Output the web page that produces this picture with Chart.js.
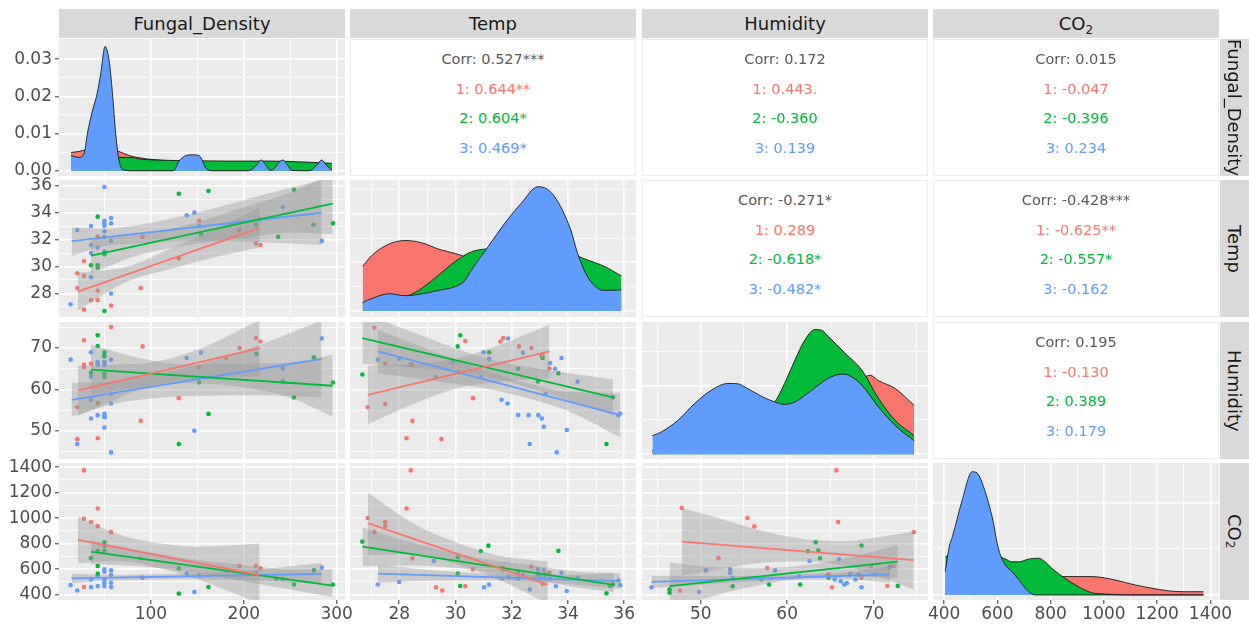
<!DOCTYPE html>
<html>
<head>
<meta charset="utf-8">
<script src="https://cdn.jsdelivr.net/npm/chart.js@4.4.1/dist/chart.umd.min.js"></script>
<style>
    body { margin: 0; background: #fff; width: 1249px; height: 624px; overflow: hidden; position: relative;
           font-family: "DejaVu Sans", "Liberation Sans", Arial, sans-serif; }
    canvas { position: absolute; }
    .strip { position: absolute; background: #d9d9d9; color: #1a1a1a; font-size: 18px;
             display: flex; align-items: center; justify-content: center; }
    .strip.side { writing-mode: vertical-rl; }
    .strip sub { font-size: 12px; vertical-align: -4px; line-height: 0; }
    .upper { position: absolute; background: #fff; border: 1px solid #ececec; box-sizing: border-box; }
    .upper div { position: absolute; left: 0; right: 0; text-align: center; font-size: 14.5px; line-height: 20px; }
</style>
</head>
<body>
<script>
// groups and variables
const groupNames = ['1', '2', '3'];
const groupColors = ['#F8766D', '#00BA38', '#619CFF'];
const varLabels = ['Fungal_Density', 'Temp', 'Humidity', 'CO<sub>2</sub>'];

// axis breaks
const fungalRange = [1, 309], fungalBreaks = [100, 200, 300], fungalMinor = [50, 150, 250];
const tempRange = [26.25, 36.42], tempBreaks = [28, 30, 32, 34, 36], tempMinor = [27, 29, 31, 33, 35];
const humRange = [43.2, 76.3], humBreaks = [50, 60, 70], humMinor = [45, 55, 65, 75];
const co2Range = [358, 1432], co2Breaks = [400, 600, 800, 1000, 1200, 1400], co2Minor = [500, 700, 900, 1100, 1300];
const fdDensRange = [-0.0014, 0.0354], fdDensBreaks = [0, 0.01, 0.02, 0.03], fdDensMinor = [0.005, 0.015, 0.025];
const fdDensLabels = ['0.00', '0.01', '0.02', '0.03'];
const tDensRange = [-0.013, 0.27], tDensBreaks = [0, 0.1, 0.2], tDensMinor = [0.05, 0.15, 0.25];
const hDensRange = [-0.0014, 0.0385], hDensBreaks = [0, 0.02], hDensMinor = [0.01, 0.03];
const cDensRange = [-0.00011, 0.00287], cDensBreaks = [0, 0.002], cDensMinor = [0.001];

// densities (diagonal) : [red, green, blue]
const densFungal = [
    [[14,0.0049],[22.5,0.0052],[28,0.0055],[40,0.006],[50,0.0062],[58,0.0058],[65.7,0.0052],[76.5,0.0041],[90,0.0034],[103,0.003],[120,0.0027],[150,0.0025],[200,0.0022],[250,0.0018],[295,0.0015]],
    [[14,0.001],[30,0.0018],[50,0.0028],[65.7,0.0036],[76.5,0.0036],[90,0.0031],[103,0.0029],[120,0.0028],[150,0.0027],[180,0.0026],[200,0.0026],[230,0.0026],[260,0.0024],[280,0.0022],[295,0.002]],
    [[14,0.0041],[22.5,0.0036],[28,0.0045],[31.5,0.0099],[36.9,0.016],[42.3,0.021],[45.9,0.026],[50.6,0.0334],[54.9,0.0297],[58.5,0.021],[62.1,0.0099],[65.7,0.0027],[71,0.0002],[80,0],[124,0],[130.6,0.0027],[137.8,0.0041],[145,0.0043],[152.2,0.004],[159.5,0.0006],[166,0],[205,0],[214,0.0016],[218.9,0.0029],[223.5,0.0016],[229,0.0001],[233,0.0006],[237,0.002],[242.3,0.0029],[247,0.0016],[252,0.0001],[270,0],[279,0.0016],[283.8,0.0029],[289,0.0015],[295,0.0002]]
];
const densTemp = [
    [[26.7,0.092],[27.06,0.116],[27.65,0.138],[28.23,0.145],[28.82,0.14],[29.41,0.127],[30.0,0.118],[30.3,0.112],[30.58,0.1],[31.17,0.08],[31.76,0.065],[32.34,0.055],[32.93,0.045],[33.52,0.035],[34.1,0.025],[34.69,0.018],[35.28,0.012],[35.9,0.01]],
    [[26.7,0.015],[27.06,0.02],[27.65,0.025],[28.23,0.03],[28.4,0.033],[28.82,0.047],[29.41,0.074],[30.0,0.102],[30.58,0.122],[31.17,0.128],[31.76,0.13],[32.34,0.13],[32.93,0.128],[33.52,0.124],[34.1,0.118],[34.28,0.114],[34.69,0.105],[35.28,0.092],[35.9,0.072]],
    [[26.7,0.017],[27.06,0.026],[27.65,0.035],[28.23,0.031],[28.82,0.035],[29.41,0.042],[30.0,0.05],[30.3,0.06],[30.58,0.085],[31.17,0.133],[31.76,0.181],[32.34,0.222],[32.93,0.256],[33.11,0.255],[33.52,0.236],[34.1,0.167],[34.34,0.119],[34.69,0.071],[35.04,0.047],[35.28,0.042],[35.9,0.043]]
];
const densHum = [
    [[44.4,0.001],[47.33,0.004],[51.2,0.008],[55.08,0.011],[58.57,0.013],[62.83,0.016],[66.71,0.02],[68.64,0.022],[69.6,0.023],[70.58,0.0214],[72.52,0.0191],[74.7,0.0142]],
    [[44.4,0.001],[46,0.002],[49.27,0.005],[53.14,0.008],[57.01,0.012],[58.57,0.0152],[59.7,0.0206],[60.9,0.0274],[62.06,0.0333],[63.22,0.0363],[63.99,0.0361],[64.77,0.0343],[66.71,0.0294],[68.64,0.0245],[70.58,0.0162],[72.52,0.0098],[74.7,0.0054]],
    [[44.4,0.0054],[45.38,0.0064],[47.33,0.0098],[49.27,0.0147],[51.2,0.0186],[53.14,0.0206],[54.3,0.0205],[55.08,0.0196],[57.01,0.0169],[58.57,0.0152],[59.7,0.0145],[60.9,0.0152],[62.83,0.0186],[64.77,0.0221],[66.3,0.0233],[67.1,0.023],[68.64,0.0201],[70.58,0.0137],[72.52,0.0083],[74.7,0.0039]]
];
const densCO2 = [
    [[404,0.0001],[500,0.0002],[600,0.0003],[700,0.00034],[760,0.00036],[829,0.0004],[904,0.0004],[953,0.0004],[1003,0.00037],[1053,0.00031],[1115,0.00022],[1177,0.00015],[1240,0.00009],[1302,0.00007],[1374,0.00007]],
    [[404,0.00083],[431,0.0009],[468,0.001],[505,0.0011],[543,0.0011],[580,0.00098],[605,0.00085],[630,0.00078],[655,0.00072],[680,0.00072],[717,0.00078],[754,0.0008],[779,0.00072],[804,0.00058],[854,0.00036],[904,0.00018],[953,0.00005],[1003,0.00002],[1100,0],[1374,0]],
    [[404,0.00051],[419,0.00105],[431,0.00127],[468,0.00207],[505,0.00268],[524,0.00265],[543,0.00243],[580,0.0017],[605,0.00098],[630,0.00065],[655,0.00051],[680,0.00033],[717,0.00007],[742,0],[1374,0]]
];

// scatter points (lower panels) : [red, green, blue]
const ptsFungalTemp = [
    [[20.7,29.5],[20.7,28.4],[27.9,30.4],[27.9,29.3],[27.9,26.8],[35.5,27.5],[42.7,27.5],[42.7,28.2],[42.7,32.2],[57.1,27.1],[89,28.4],[91,32.2],[130,30.6],[152,33.4],[195,32.7],[213,31.7],[218,31.6]],
    [[35.5,30.1],[42.7,33.7],[42.7,30.1],[42.7,29.9],[49.9,31.0],[49.9,30.9],[49.9,26.7],[130,35.4],[154,32.4],[162,35.6],[195,32.7],[213,33.1],[237,32.2],[254,35.7],[275,33.1],[296,33.2]],
    [[13.5,27.2],[20.7,32.7],[35.5,33.0],[35.5,31.6],[35.5,31.0],[35.5,29.2],[42.7,32.2],[42.7,31.4],[49.9,35.9],[49.9,33.4],[49.9,33.2],[49.9,33.0],[49.9,32.6],[49.9,32.2],[49.9,31.1],[57.1,33.6],[57.1,33.2],[57.1,31.9],[57.1,28.0],[138.6,33.8],[146.8,34.0],[152,33.0],[217,33.5],[242,34.4],[284,31.9]]
];
const ptsFungalHum = [
    [[20.7,48.0],[20.7,55.7],[27.9,71.9],[27.9,66.0],[27.9,65.4],[35.5,66.2],[42.7,48.2],[42.7,56.7],[57.1,75.1],[89,52.4],[91,70.4],[130,57.9],[152,65.4],[181,67.6],[195.5,70.0],[213,72.4],[218,71.6]],
    [[42.7,73.1],[42.7,70.5],[49.9,69.0],[49.9,68.0],[49.9,63.8],[49.9,63.0],[35.5,64.0],[130,46.8],[152,61.7],[162,54.1],[213.5,68.6],[242,61.9],[254,58.1],[275.5,67.8],[296,61.7]],
    [[13.5,67.2],[20.7,46.8],[35.5,69.0],[35.5,63.0],[35.5,57.5],[35.5,53.0],[42.7,66.6],[42.7,66.0],[42.7,53.8],[49.9,68.2],[49.9,66.6],[49.9,66.0],[49.9,54.1],[49.9,53.6],[49.9,53.3],[49.9,50.8],[57.1,67.2],[57.1,58.9],[57.1,56.6],[57.1,44.8],[138.6,67.6],[146.8,50.0],[154,68.9],[242,65.1],[284,72.3]]
];
const ptsFungalCO2 = [
    [[27.9,1374],[27.9,995],[35.5,969],[42.7,1075],[42.7,937],[57.1,890],[27.9,459],[89,683],[181,585],[195.5,625],[212.8,625],[218,606]],
    [[35.5,686],[42.7,744],[49.9,810],[49.9,784],[49.9,744],[42.7,564],[42.7,625],[130,408],[130,606],[162,459],[235,527],[254,479],[275.5,590],[296,479]],
    [[13.5,475],[20.7,432],[35.5,459],[35.5,519],[42.7,467],[42.7,546],[49.9,598],[49.9,580],[49.9,519],[49.9,493],[49.9,467],[57.1,590],[57.1,554],[57.1,493],[57.1,459],[91,532],[138.6,564],[146.8,421],[152,551],[213.5,572],[242,525],[284,612]]
];
const ptsTempHum = [
    [[27.12,74.9],[26.88,55.7],[27.5,56.5],[27.5,66.2],[28.47,52.4],[28.26,48.2],[29.5,48.0],[28.45,66.0],[30.35,71.7],[30.62,57.9],[31.6,71.6],[31.7,72.4],[32.26,70.4],[32.7,70.0],[33.34,65.1],[33.1,68.2]],
    [[26.69,63.6],[30.17,73.1],[30.08,70.4],[32.23,65.0],[33.07,68.0],[33.66,63.9],[32.93,61.9],[35.6,58.1],[35.37,46.8],[31.2,69.0],[33.1,67.6]],
    [[27.24,67.2],[28,67.4],[28.41,66.0],[29.3,63.0],[29.9,66.6],[30.1,64.2],[30.9,63.0],[31.0,69.0],[31.2,67.4],[31.87,72.3],[32.4,68.9],[31.64,57.5],[31.85,56.6],[32.23,53.8],[32.6,53.8],[32.95,53.8],[33.07,53.0],[33.14,51.0],[32.64,46.8],[33.36,66.4],[33.54,65.0],[33.77,67.6],[33.96,50.2],[34.34,61.9],[33.6,44.8],[35.8,53.8],[35.86,54.2],[33.2,58.9]]
];
const ptsTempCO2 = [
    [[28.41,1374],[26.88,1001],[27.5,969],[27.5,935],[27.12,890],[28.26,1075],[28.47,684],[29.31,458],[29.53,432],[30.35,466],[30.62,598],[31.64,611],[32.7,619],[33.1,484],[33.34,571]],
    [[26.69,816],[30.08,693],[30.08,566],[30.17,468],[30.9,740],[31.17,784],[32.23,582],[32.93,561],[33.66,743],[35.37,410],[35.5,468],[35.6,481],[31.7,600],[33.2,555]],
    [[27.24,479],[28,500],[29.23,664],[31.02,458],[31.19,479],[31.64,527],[32.23,527],[32.64,440],[32.93,598],[33.14,590],[33.36,527],[33.57,466],[33.77,571],[33.96,429],[34.34,532],[35.8,511],[35.86,474],[32.4,555],[33.0,545],[31.9,540]]
];
const ptsHumCO2 = [
    [[47.8,1080],[47.6,432],[52.05,686],[55.4,1001],[56.2,935],[57.7,608],[64.8,560],[65.2,458],[65.7,1374],[65.9,969],[68.6,532],[69.7,624],[71.6,468],[72.3,624],[74.65,890]],
    [[46.4,415],[46.4,440],[53.7,466],[57.9,479],[61.5,479],[62.4,740],[63.3,811],[63.6,745],[63.8,685],[64.8,532],[68.6,785],[72.8,468]],
    [[44.3,458],[46.4,440],[49.8,421],[50.6,590],[53.4,598],[53.4,571],[53.7,532],[57.0,519],[58.6,590],[61.4,545],[62.6,664],[64.7,553],[65.5,519],[66.0,677],[66.2,505],[66.6,479],[66.9,490],[67.3,563],[67.9,519],[68.3,558],[68.6,458],[70.2,558],[71.8,611],[71.9,620]]
];

// fitted lines (ends) and confidence bands [x, low, high]
const fitFungalTemp = [[[21.4,28.14],[217,32.87]], [[35.5,30.81],[295.7,34.66]], [[14.6,31.88],[283.8,33.99]]];
const bandFungalTemp = [
    [[21.4,26.74,29.54],[75,28.9,30.0],[120,29.8,31.3],[170,30.7,32.8],[217,31.4,34.4]],
    [[35.5,29.5,32.1],[90,30.9,32.4],[140,31.6,33.1],[200,32.1,34.4],[250,32.5,35.5],[295.7,32.4,36.9]],
    [[14.6,30.8,32.9],[50,31.5,32.8],[80,31.7,33.0],[150,31.9,34.0],[220,31.8,35.3],[283.8,31.6,36.4]]
];
const fitFungalHum = [[[21.4,59.7],[217,70.0]], [[35.5,64.8],[295.7,60.9]], [[14.6,57.5],[283.8,67.4]]];
const bandFungalHum = [
    [[21.4,53.6,65.8],[60,57.4,66.0],[100,60.9,66.5],[150,62.6,69.6],[217,63.2,76.8]],
    [[35.5,58.8,70.8],[90,60.5,67.5],[140,61.5,66.0],[200,60.5,66.2],[250,58.0,66.5],[295.7,53.4,68.4]],
    [[14.6,53.4,61.6],[60,56.5,62.0],[100,57.8,63.4],[150,58.5,66.0],[220,58.6,71.0],[283.8,58.1,76.7]]
];
const fitFungalCO2 = [[[21.4,829],[217,554]], [[35.5,738],[295.7,471]], [[14.6,527],[283.8,563]]];
const bandFungalCO2 = [
    [[21.4,644,1014],[60,665,885],[100,625,812],[150,520,776],[217,330,800]],
    [[35.5,640,825],[90,620,744],[140,580,682],[200,505,633],[250,440,598],[295.7,382,600]],
    [[14.6,490,564],[50,508,555],[100,517,560],[150,520,570],[220,510,600],[283.8,482,650]]
];
const fitTempHum = [[[26.88,58.7],[33.34,69.2]], [[26.69,72.4],[35.6,58.1]], [[27.24,69.2],[35.86,53.8]]];
const bandTempHum = [
    [[26.88,51.6,65.8],[28.5,56.5,66.1],[30,60.2,67.4],[31.5,61.8,70.6],[33.34,62.7,75.7]],
    [[26.69,66.3,78.5],[28.5,65.2,73.8],[30,64.3,69.9],[31.5,62.6,66.8],[33,59.6,65.0],[34.5,56.3,63.5],[35.6,53.8,62.4]],
    [[27.24,64.0,74.4],[29,62.3,69.8],[31,60.3,64.7],[32.5,58.0,61.6],[34,54.8,59.4],[35.86,48.4,59.2]]
];
const fitTempCO2 = [[[26.88,961],[33.28,479]], [[26.69,777],[35.63,476]], [[27.24,564],[35.86,506]]];
const bandTempCO2 = [
    [[26.88,710,1200],[28.5,720,958],[30,640,812],[31.5,520,706],[33.28,330,660]],
    [[26.69,625,929],[28.5,628,804],[30,608,723],[31.5,565,665],[33,508,621],[34.5,450,578],[35.63,420,572]],
    [[27.24,493,635],[29,508,596],[31,513,565],[32.5,503,555],[34,483,554],[35.86,445,567]]
];
const fitHumCO2 = [[[47.8,816],[74.65,670]], [[46.4,466],[72.8,659]], [[44.3,500],[71.9,558]]];
const bandHumCO2 = [
    [[47.8,550,1080],[52,595,1000],[57,650,900],[62,660,835],[67,620,820],[71,530,855],[74.65,440,895]],
    [[46.4,280,652],[52,400,614],[57,478,609],[62,530,630],[67,545,688],[72.8,530,790]],
    [[44.3,452,548],[50,478,546],[56,503,546],[62,516,558],[67,518,578],[71.9,492,624]]
];

// correlation texts (upper panels)
const corrCells = [[0, 1], [0, 2], [0, 3], [1, 2], [1, 3], [2, 3]];
const corrAll = ['Corr: 0.527***', 'Corr: 0.172', 'Corr: 0.015', 'Corr: -0.271*', 'Corr: -0.428***', 'Corr: 0.195'];
const corrG1 = ['0.644**', '0.443.', '-0.047', '0.289', '-0.625**', '-0.130'];
const corrG2 = ['0.604*', '-0.360', '-0.396', '-0.618*', '-0.557*', '0.389'];
const corrG3 = ['0.469*', '0.139', '0.234', '-0.482*', '-0.162', '0.179'];

// layout
const W = 286, H = 137, M = 20;
const colL = [59, 350, 642, 933];
const rowT = [39, 180, 322, 463];

Chart.defaults.font.family = '"DejaVu Sans", "Liberation Sans", Arial, sans-serif';

const panelBg = {
    id: 'panelBg',
    beforeDraw(chart) {
        const a = chart.chartArea;
        chart.ctx.save();
        chart.ctx.fillStyle = '#ebebeb';
        chart.ctx.fillRect(a.left, a.top, a.right - a.left, a.bottom - a.top);
        chart.ctx.restore();
    }
};

function axis(range, breaks, minor, labels) {
    return {range, breaks, minor, labels: labels || breaks.map(String)};
}
const fungalAx = axis(fungalRange, fungalBreaks, fungalMinor);
const tempAx = axis(tempRange, tempBreaks, tempMinor);
const humAx = axis(humRange, humBreaks, humMinor);
const co2Ax = axis(co2Range, co2Breaks, co2Minor);

function makeScale(ax, show, isY) {
    const major = new Set(ax.breaks);
    const all = ax.breaks.concat(ax.minor).sort((a, b) => a - b);
    const isMajor = c => c.tick && major.has(c.tick.value);
    return {
        type: 'linear',
        min: ax.range[0],
        max: ax.range[1],
        afterBuildTicks: s => { s.ticks = all.map(v => ({value: v})); },
        afterFit: s => {
            if (isY) s.width = show ? 59 : 0;
            else s.height = show ? 23 : 0;
        },
        border: {display: false},
        grid: {
            color: '#ffffff',
            lineWidth: c => isMajor(c) ? 1.6 : 0.8,
            drawTicks: show,
            tickLength: 4,
            tickWidth: 1,
            tickColor: c => isMajor(c) ? '#333333' : 'rgba(0,0,0,0)'
        },
        ticks: {
            display: show,
            autoSkip: false,
            maxRotation: 0,
            padding: isY ? 3 : 0,
            color: '#4d4d4d',
            font: {size: 17},
            callback: v => {
                const i = ax.breaks.indexOf(v);
                return i < 0 ? '' : ax.labels[i];
            }
        }
    };
}

function toXY(arr, yi) {
    return arr.map(p => ({x: p[0], y: p[yi || 1]}));
}

function densitySets(dens) {
    return dens.map((d, g) => ({
        data: toXY(d),
        borderColor: '#1a1a1a',
        borderWidth: 0.9,
        backgroundColor: groupColors[g],
        fill: 'origin',
        pointRadius: 0,
        cubicInterpolationMode: 'monotone',
        order: 2 - g
    }));
}

function scatterSets(pts, fit, band) {
    const sets = [];
    pts.forEach((p, g) => sets.push({
        data: toXY(p), showLine: false, pointRadius: 2.3, pointBorderWidth: 0,
        pointBackgroundColor: groupColors[g], order: 9
    }));
    band.forEach(b => {
        sets.push({
            data: toXY(b, 2), fill: '+1', backgroundColor: 'rgba(153,153,153,0.4)',
            borderColor: 'rgba(0,0,0,0)', borderWidth: 0, pointRadius: 0,
            cubicInterpolationMode: 'monotone', order: 5
        });
        sets.push({
            data: toXY(b, 1), fill: false, borderColor: 'rgba(0,0,0,0)', borderWidth: 0,
            pointRadius: 0, cubicInterpolationMode: 'monotone', order: 5
        });
    });
    fit.forEach((f, g) => sets.push({
        data: toXY(f), borderColor: groupColors[g], borderWidth: 1.8, pointRadius: 0, fill: false, order: 0
    }));
    return sets;
}

function addPanel(r, c, xAx, yAx, datasets) {
    const yW = c === 0 ? 59 : 0, xH = r === 3 ? 23 : 0;
    const w = W + yW + 2 * M, h = H + xH + 2 * M;
    const cv = document.createElement('canvas');
    cv.width = w;
    cv.height = h;
    cv.style.left = (colL[c] - yW - M) + 'px';
    cv.style.top = (rowT[r] - M) + 'px';
    cv.style.width = w + 'px';
    cv.style.height = h + 'px';
    document.body.appendChild(cv);
    new Chart(cv, {
        type: 'line',
        data: {datasets},
        options: {
            responsive: false,
            animation: false,
            events: [],
            layout: {padding: M},
            plugins: {legend: {display: false}, tooltip: {enabled: false}},
            scales: {x: makeScale(xAx, r === 3, false), y: makeScale(yAx, c === 0, true)}
        },
        plugins: [panelBg]
    });
}

// diagonal
addPanel(0, 0, fungalAx, axis(fdDensRange, fdDensBreaks, fdDensMinor, fdDensLabels), densitySets(densFungal));
addPanel(1, 1, tempAx, axis(tDensRange, tDensBreaks, tDensMinor), densitySets(densTemp));
addPanel(2, 2, humAx, axis(hDensRange, hDensBreaks, hDensMinor), densitySets(densHum));
addPanel(3, 3, co2Ax, axis(cDensRange, cDensBreaks, cDensMinor), densitySets(densCO2));

// lower
addPanel(1, 0, fungalAx, tempAx, scatterSets(ptsFungalTemp, fitFungalTemp, bandFungalTemp));
addPanel(2, 0, fungalAx, humAx, scatterSets(ptsFungalHum, fitFungalHum, bandFungalHum));
addPanel(3, 0, fungalAx, co2Ax, scatterSets(ptsFungalCO2, fitFungalCO2, bandFungalCO2));
addPanel(2, 1, tempAx, humAx, scatterSets(ptsTempHum, fitTempHum, bandTempHum));
addPanel(3, 1, tempAx, co2Ax, scatterSets(ptsTempCO2, fitTempCO2, bandTempCO2));
addPanel(3, 2, humAx, co2Ax, scatterSets(ptsHumCO2, fitHumCO2, bandHumCO2));

// upper: correlation text
corrCells.forEach((cell, i) => {
    const box = document.createElement('div');
    box.className = 'upper';
    box.style.cssText = `left:${colL[cell[1]]}px;top:${rowT[cell[0]]}px;width:${W}px;height:${H}px`;
    const lines = [[corrAll[i], '#595959'],
        [groupNames[0] + ': ' + corrG1[i], groupColors[0]],
        [groupNames[1] + ': ' + corrG2[i], groupColors[1]],
        [groupNames[2] + ': ' + corrG3[i], groupColors[2]]];
    const offsets = [19, 49, 78, 108];
    lines.forEach((ln, k) => {
        const t = document.createElement('div');
        t.textContent = ln[0];
        t.style.color = ln[1];
        t.style.top = (offsets[k] - 10) + 'px';
        box.appendChild(t);
    });
    document.body.appendChild(box);
});

// strips
varLabels.forEach((lab, k) => {
    const top = document.createElement('div');
    top.className = 'strip';
    top.style.cssText = `left:${colL[k]}px;top:9px;width:${W}px;height:29px`;
    top.innerHTML = '<span>' + lab + '</span>';
    document.body.appendChild(top);

    const side = document.createElement('div');
    side.className = 'strip side';
    side.style.cssText = `left:1220px;top:${rowT[k]}px;width:29px;height:${H}px`;
    side.innerHTML = '<span>' + lab + '</span>';
    document.body.appendChild(side);
});
</script>
</body>
</html>
